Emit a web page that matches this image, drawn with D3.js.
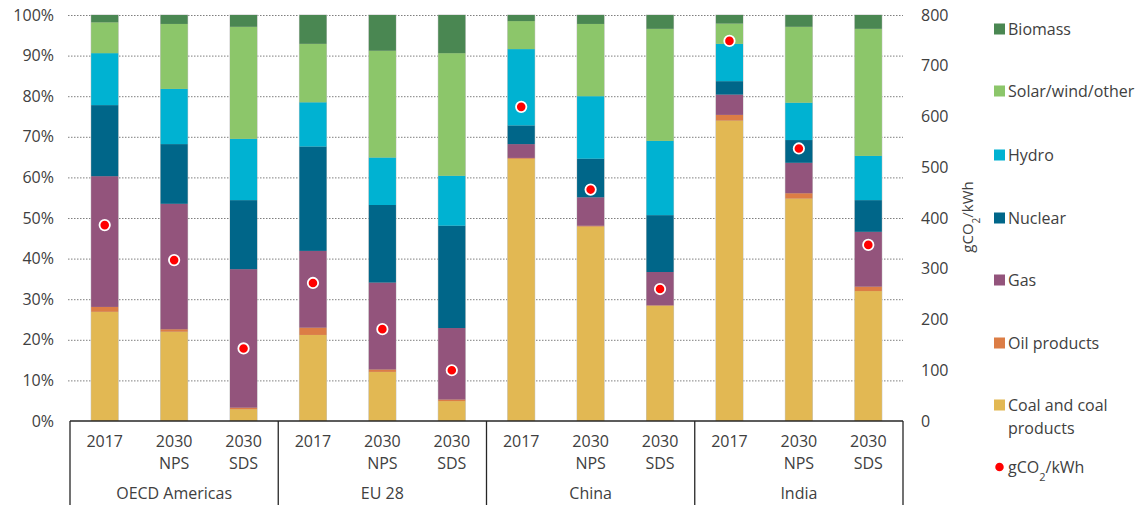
<!DOCTYPE html>
<html>
<head>
<meta charset="utf-8">
<script src="https://cdn.jsdelivr.net/npm/d3@7"></script>
<style>
  body { margin: 0; background: #fff; }
  text { font-family: "Open Sans", "Noto Sans", sans-serif; fill: #404040; }
</style>
</head>
<body>
<div id="chart"></div>
<script>
// categories along the bottom
let regions = ["OECD Americas", "EU 28", "China", "India"];
let cases = ["2017", "2030 NPS", "2030 SDS"];
let yearLabels = ["2017", "2030", "2030"];
let scenarioLabels = ["", "NPS", "SDS"];

// generation shares (%), one value per bar, in bar order
let coal    = [26.9, 22.0, 2.9, 21.2, 12.1, 4.9, 64.6, 47.9, 28.4, 74.0, 54.8, 32.0];
let oil     = [1.2, 0.6, 0.4, 1.8, 0.6, 0.4, 0.2, 0.2, 0.1, 1.4, 1.3, 1.1];
let gas     = [32.2, 30.9, 34.1, 18.9, 21.4, 17.6, 3.4, 7.0, 8.2, 5.0, 7.5, 13.5];
let nuclear = [17.5, 14.7, 17.0, 25.7, 19.1, 25.2, 4.6, 9.5, 14.0, 3.3, 5.6, 7.8];
let hydro   = [12.8, 13.6, 15.1, 10.9, 11.7, 12.3, 18.8, 15.4, 18.3, 9.2, 9.2, 10.9];
let solar   = [7.6, 16.0, 27.6, 14.4, 26.3, 30.2, 6.9, 17.8, 27.6, 5.0, 18.7, 31.3];
let biomass = [1.8, 2.2, 2.9, 7.1, 8.8, 9.4, 1.5, 2.2, 3.4, 2.1, 2.9, 3.4];

// emissions intensity, gCO2/kWh (right axis)
let intensity = [386, 317, 143, 272, 181, 100, 619, 456, 260, 749, 537, 347];

let leftTicks = [0, 10, 20, 30, 40, 50, 60, 70, 80, 90, 100];
let rightTicks = [0, 100, 200, 300, 400, 500, 600, 700, 800];

let seriesNames = ["Coal and coal products", "Oil products", "Gas", "Nuclear", "Hydro", "Solar/wind/other", "Biomass"];
let seriesData = [coal, oil, gas, nuclear, hydro, solar, biomass];
let colors = ["#e2b853", "#dc7d45", "#93547c", "#006689", "#00b2d2", "#8cc66a", "#4a8752"];

let width = 1146;
let height = 505;
let plotLeft = 70, plotRight = 903, plotTop = 15, plotBottom = 421;

let svg = d3.select("#chart")
    .append("svg")
    .attr("width", width)
    .attr("height", height);

// one row per bar
let bars = [];
regions.forEach((r, gi) => {
    cases.forEach((c, ci) => {
        let i = gi * cases.length + ci;
        let row = {id: r + "|" + c, region: r, year: yearLabels[ci], scen: scenarioLabels[ci], co2: intensity[i]};
        seriesNames.forEach((s, si) => { row[s] = seriesData[si][i]; });
        bars.push(row);
    });
});

let x = d3.scaleBand()
    .domain(bars.map(d => d.id))
    .range([plotLeft, plotRight])
    .paddingInner(0.61)
    .paddingOuter(0.305);

let y = d3.scaleLinear().domain([0, 100]).range([plotBottom, plotTop]);
let y2 = d3.scaleLinear().domain([0, 800]).range([plotBottom, plotTop]);

// dotted gridlines
svg.append("g")
    .attr("transform", `translate(${plotLeft - 2},0)`)
    .call(d3.axisRight(y).tickValues(leftTicks.filter(t => t > 0)).tickSize(plotRight - plotLeft + 2).tickFormat(""))
    .call(g => g.select(".domain").remove())
    .call(g => g.selectAll("line")
        .attr("stroke", "#7f7f7f")
        .attr("stroke-dasharray", "1.5,1.5"));

// left axis labels
svg.append("g")
    .attr("transform", "translate(58,0)")
    .call(d3.axisLeft(y).tickValues(leftTicks).tickSize(0).tickPadding(4).tickFormat(d => d + "%"))
    .call(g => g.select(".domain").remove())
    .call(g => g.selectAll("text")
        .style("font-size", "16px")
        .attr("fill", "#404040"));

// right axis labels
svg.append("g")
    .attr("transform", "translate(917,0)")
    .call(d3.axisRight(y2).tickValues(rightTicks).tickSize(0).tickPadding(4))
    .call(g => g.select(".domain").remove())
    .call(g => g.selectAll("text")
        .style("font-size", "16px")
        .attr("fill", "#404040"));

// right axis title
let yTitle = svg.append("text")
    .attr("transform", "translate(973,217) rotate(-90)")
    .style("text-anchor", "middle")
    .style("font-size", "15px");
yTitle.append("tspan").text("gCO");
yTitle.append("tspan").text("2").attr("baseline-shift", "sub").style("font-size", "10px");
yTitle.append("tspan").text("/kWh");

// stacked bars
let stack = d3.stack().keys(seriesNames);
let layers = stack(bars);

svg.append("g")
    .selectAll("rect")
    .data(bars)
    .enter()
    .append("rect")
    .attr("x", d => x(d.id) - 0.5)
    .attr("y", y(100) - 0.5)
    .attr("width", x.bandwidth() + 1)
    .attr("height", y(0) - y(100) + 0.5)
    .attr("fill", "#c8c8c8");

svg.append("g")
    .selectAll("g")
    .data(layers)
    .enter()
    .append("g")
    .attr("fill", (d, i) => colors[i])
    .selectAll("rect")
    .data(d => d)
    .enter()
    .append("rect")
    .attr("x", d => x(d.data.id))
    .attr("y", d => y(d[1]))
    .attr("height", d => y(d[0]) - y(d[1]))
    .attr("width", x.bandwidth());

// emission dots
svg.append("g")
    .selectAll("circle")
    .data(bars)
    .enter()
    .append("circle")
    .attr("cx", d => x(d.id) + x.bandwidth() / 2)
    .attr("cy", d => y2(d.co2))
    .attr("r", 5.2)
    .attr("fill", "#ff0000")
    .attr("stroke", "#fff")
    .attr("stroke-width", 1.8);

// category table under the plot
let groupW = (plotRight - plotLeft) / regions.length;
let box = svg.append("g").attr("stroke", "#262626").attr("stroke-width", 1.3);
box.append("line")
    .attr("x1", plotLeft).attr("x2", plotRight)
    .attr("y1", plotBottom).attr("y2", plotBottom);
d3.range(regions.length + 1).forEach(i => {
    box.append("line")
        .attr("x1", plotLeft + i * groupW).attr("x2", plotLeft + i * groupW)
        .attr("y1", plotBottom).attr("y2", height);
});

let labels = svg.append("g").style("font-size", "16px").style("text-anchor", "middle");
labels.selectAll(".yr")
    .data(bars)
    .enter()
    .append("text")
    .attr("x", d => x(d.id) + x.bandwidth() / 2)
    .attr("y", 447)
    .text(d => d.year);
labels.selectAll(".sc")
    .data(bars)
    .enter()
    .append("text")
    .attr("x", d => x(d.id) + x.bandwidth() / 2)
    .attr("y", 469)
    .text(d => d.scen);
labels.selectAll(".rg")
    .data(regions)
    .enter()
    .append("text")
    .attr("x", (d, i) => plotLeft + (i + 0.5) * groupW)
    .attr("y", 499)
    .text(d => d);

// legend, top to bottom = Biomass ... Coal, then the dots
let legendY = [29, 91, 155, 218, 280, 343, 405];
let legend = svg.append("g").style("font-size", "16px");
seriesNames.slice().reverse().forEach((s, i) => {
    let ci = seriesNames.length - 1 - i;
    legend.append("rect")
        .attr("x", 994)
        .attr("y", legendY[i] - 5.5)
        .attr("width", 11)
        .attr("height", 11)
        .attr("fill", colors[ci]);
    if (s == "Coal and coal products") {
        legend.append("text").attr("x", 1008).attr("y", legendY[i] + 5.5).text("Coal and coal");
        legend.append("text").attr("x", 1008).attr("y", legendY[i] + 28.5).text("products");
    } else {
        legend.append("text").attr("x", 1008).attr("y", legendY[i] + 5.5).text(s);
    }
});
legend.append("circle")
    .attr("cx", 999.5)
    .attr("cy", 467)
    .attr("r", 5)
    .attr("fill", "#ff0000")
    .attr("stroke", "#fff")
    .attr("stroke-width", 1.5);
let dotLabel = legend.append("text").attr("x", 1008).attr("y", 472.5);
dotLabel.append("tspan").text("gCO");
dotLabel.append("tspan").text("2").attr("baseline-shift", "sub").style("font-size", "11px");
dotLabel.append("tspan").text("/kWh");
</script>
</body>
</html>
